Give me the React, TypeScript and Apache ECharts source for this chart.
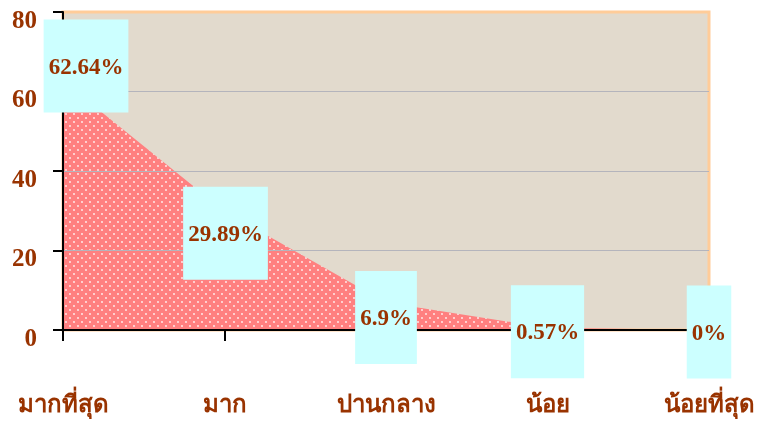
import React, { useEffect, useRef } from "react";
import * as echarts from "echarts";

const categories = ["มากที่สุด", "มาก", "ปานกลาง", "น้อย", "น้อยที่สุด"];
const values = [62.64, 29.89, 6.9, 0.57, 0];
const valueLabels = ["62.64%", "29.89%", "6.9%", "0.57%", "0%"];
const yTicks = [0, 20, 40, 60, 80];

// label box offsets relative to each point (style only)
const labelOffsets: [number, number][] = [
  [23, -15],
  [1, 22],
  [0, 15],
  [0, 4],
  [0, 2],
];

const BROWN = "#993300";
const FONT = '"Liberation Serif", "Times New Roman", serif';

function makeDotPattern(): string {
  const c = document.createElement("canvas");
  c.width = 8;
  c.height = 8;
  const ctx = c.getContext("2d")!;
  ctx.fillStyle = "#ff8080";
  ctx.fillRect(0, 0, 8, 8);
  ctx.fillStyle = "rgba(255,255,255,0.9)";
  const dots = [
    [2, 2],
    [6, 6],
  ];
  for (const [x, y] of dots) {
    ctx.beginPath();
    ctx.arc(x, y, 0.9, 0, Math.PI * 2);
    ctx.fill();
  }
  return c.toDataURL();
}

export default function App() {
  const ref = useRef<HTMLDivElement>(null);
  useEffect(() => {
    if (!ref.current) return;
    const chart = echarts.init(ref.current, undefined, { renderer: "svg" });
    const pattern = makeDotPattern();
    chart.setOption({
      animation: false,
      grid: {
        left: 63,
        right: 62,
        top: 12,
        bottom: 91,
        show: true,
        backgroundColor: "#e2dacd",
        borderColor: "#ffcc99",
        borderWidth: 3,
      },
      xAxis: {
        type: "category",
        data: categories,
        boundaryGap: false,
        axisLine: { show: true, lineStyle: { color: "#000", width: 2 } },
        axisTick: { show: true, length: 11, lineStyle: { color: "#000", width: 2 } },
        axisLabel: {
          color: BROWN,
          fontFamily: FONT,
          fontWeight: "bold",
          fontSize: 24,
          margin: 62,
          verticalAlign: "top",
        },
        splitLine: { show: false },
        z: 5,
      },
      yAxis: {
        type: "value",
        min: 0,
        max: 80,
        interval: 20,
        axisLine: { show: true, lineStyle: { color: "#000", width: 2 } },
        axisTick: { show: true, length: 10, lineStyle: { color: "#000", width: 2 } },
        axisLabel: {
          color: BROWN,
          fontFamily: FONT,
          fontWeight: "bold",
          fontSize: 25,
          margin: 26,
          lineHeight: 14,
          verticalAlign: "top",
          formatter: (v: number) => (yTicks.includes(v) ? String(v) : ""),
        },
        splitLine: {
          show: true,
          showMinLine: false,
          showMaxLine: false,
          lineStyle: { color: "#b4b4bc", width: 1 },
        },
        z: 5,
      },
      series: [
        {
          type: "line",
          data: values,
          symbol: "none",
          lineStyle: { width: 0 },
          areaStyle: {
            color: { image: pattern, repeat: "repeat" },
            opacity: 1,
          },
          z: 2,
        },
        {
          type: "line",
          data: values,
          symbol: "circle",
          symbolSize: 1,
          itemStyle: { color: "rgba(0,0,0,0)" },
          lineStyle: { width: 0, opacity: 0 },
          label: {
            show: true,
            position: "inside",
            formatter: (p: any) => valueLabels[p.dataIndex],
            color: BROWN,
            fontFamily: FONT,
            fontWeight: "bold",
            fontSize: 23,
            backgroundColor: "#ccffff",
            padding: [35, 5],
            align: "center",
            verticalAlign: "middle",
          },
          labelLayout: (p: any) => ({
            dx: labelOffsets[p.dataIndex][0],
            dy: labelOffsets[p.dataIndex][1],
            hideOverlap: false,
          }),
          z: 10,
        },
      ],
    });
    return () => chart.dispose();
  }, []);
  return (
    <div
      ref={ref}
      style={{ position: "fixed", left: 0, top: 0, width: 771, height: 421 }}
    />
  );
}
